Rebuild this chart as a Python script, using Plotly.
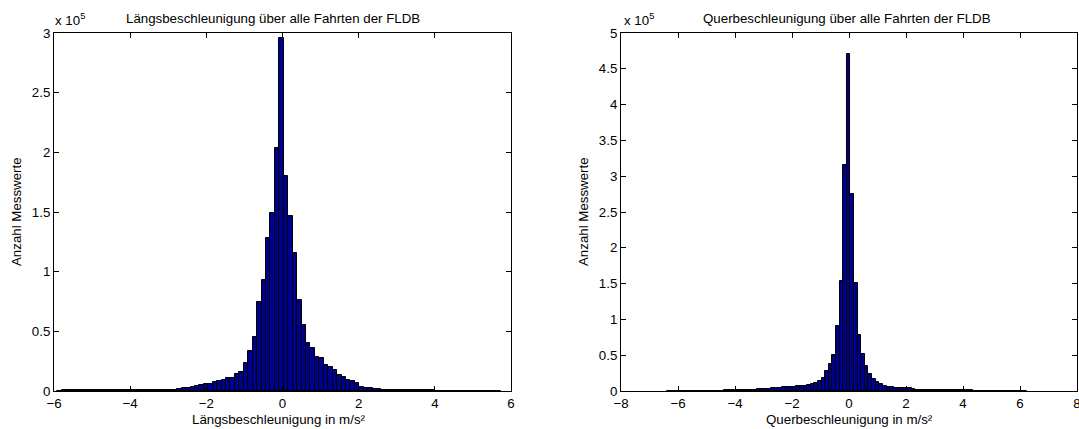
import numpy as np
import plotly.graph_objects as go

# ---------------- data ----------------
# Left histogram: longitudinal acceleration (100 bins)
long_bin_start = -5.913
long_bin_width = 0.1166
long_counts = [
    300,
    500, 500, 500, 500, 500, 500, 500, 500, 500, 500, 500, 550, 550, 550, 600, 600, 600, 650, 650, 700, 700, 750, 800, 900,
    1170, 1170, 1700, 2260, 2820, 3660, 4500, 5340, 5900, 6200,
    7300, 8400, 9250, 10900, 11200, 14600, 16200, 23200, 33800, 45300,
    74300, 92800, 128200, 148900, 204000, 296000, 179900, 146700, 115700, 76000,
    55600, 40300, 36300, 28500, 27700, 22100, 20100, 17900, 13200, 11800,
    9000, 8100, 6500, 3660, 2820, 2260, 1700, 1400, 900,
    700, 600, 600, 500, 500, 500, 500, 500, 450, 450, 450, 400, 400, 400, 400, 350,
    0, 350, 350, 0, 300, 0, 300, 350, 300, 0,
]

# Right histogram: lateral acceleration (100 bins)
lat_bin_start = -6.40
lat_bin_width = 0.1265
lat_counts = [
    500, 0, 0, 0, 300,
    500, 500, 500, 500, 600, 600, 600, 600, 700, 700, 700, 800, 800, 900,
    1000, 1000, 1200, 1500, 1900, 2000, 2200, 2400, 2600, 2800,
    3500, 3800, 4000, 5000, 5300, 5800, 6000, 6500, 7000, 7500,
    8200, 9800, 11200, 14000, 18700, 27500, 37300, 50800, 90300, 153600,
    315200, 471000, 275600, 150800, 77800, 52200, 34500, 23300, 17300, 12100,
    9300, 7000, 5600, 5400, 4600, 4400, 4200, 3700, 3500, 3300,
    2000, 1900, 1900, 1800, 1800, 1700, 1500,
    900, 900, 900, 800, 800, 800, 800, 800, 800, 700, 700, 700, 700, 700, 700, 700,
    600, 600, 600, 600, 600, 600, 600, 500,
]

long_xticks = [-6, -4, -2, 0, 2, 4, 6]
long_yticks = [0, 50000, 100000, 150000, 200000, 250000, 300000]
long_yticklabels = ["0", "0.5", "1", "1.5", "2", "2.5", "3"]

lat_xticks = [-8, -6, -4, -2, 0, 2, 4, 6, 8]
lat_yticks = [0, 50000, 100000, 150000, 200000, 250000, 300000, 350000, 400000, 450000, 500000]
lat_yticklabels = ["0", "0.5", "1", "1.5", "2", "2.5", "3", "3.5", "4", "4.5", "5"]

title_left = "Längsbeschleunigung über alle Fahrten der FLDB"
title_right = "Querbeschleunigung über alle Fahrten der FLDB"
xlabel_left = "Längsbeschleunigung in m/s²"
xlabel_right = "Querbeschleunigung in m/s²"
ylabel = "Anzahl Messwerte"
exp_label = "x 10<sup>5</sup>"

# ---------------- figure ----------------
W, H = 1079, 429
FONT = "Liberation Sans, Arial, Helvetica, sans-serif"
FS = 13.3
BAR = "#00008F"


def px(x):
    return x / W


def py(y):
    return (H - y) / H


long_centers = long_bin_start + long_bin_width * (np.arange(len(long_counts)) + 0.5)
lat_centers = lat_bin_start + lat_bin_width * (np.arange(len(lat_counts)) + 0.5)

fig = go.Figure()
fig.add_trace(go.Bar(x=long_centers, y=long_counts, width=long_bin_width,
                     marker=dict(color=BAR, line=dict(color="black", width=1)),
                     xaxis="x", yaxis="y", hoverinfo="x+y"))
fig.add_trace(go.Bar(x=lat_centers, y=lat_counts, width=lat_bin_width,
                     marker=dict(color=BAR, line=dict(color="black", width=1)),
                     xaxis="x2", yaxis="y2", hoverinfo="x+y"))

axis_style = dict(showline=True, linecolor="black", linewidth=1, mirror="allticks",
                  ticks="inside", ticklen=5, tickcolor="black", tickwidth=1,
                  showgrid=False, zeroline=False, automargin=False,
                  ticklabeloverflow="allow",
                  tickfont=dict(family=FONT, size=FS, color="black"))

y_dom = [py(391), py(33)]

fig.update_layout(
    template="none",
    width=W, height=H,
    margin=dict(l=0, r=0, t=0, b=0, pad=0),
    paper_bgcolor="white", plot_bgcolor="white",
    showlegend=False, bargap=0,
    font=dict(family=FONT, size=FS, color="black"),
    xaxis=dict(domain=[px(54), px(511)], range=[-6, 6], tickvals=long_xticks,
               anchor="y", **axis_style),
    yaxis=dict(domain=y_dom, range=[0, 300000], tickvals=long_yticks,
               ticktext=long_yticklabels, anchor="x", **axis_style),
    xaxis2=dict(domain=[px(621), px(1077)], range=[-8, 8], tickvals=lat_xticks,
                anchor="y2", **axis_style),
    yaxis2=dict(domain=y_dom, range=[0, 500000], tickvals=lat_yticks,
                ticktext=lat_yticklabels, anchor="x2", **axis_style),
)

ann = []


def text(x, y, t, angle=0, xanchor="center"):
    ann.append(dict(x=px(x), y=py(y), xref="paper", yref="paper", text=t,
                    showarrow=False, textangle=angle, xanchor=xanchor, yanchor="middle",
                    font=dict(family=FONT, size=FS, color="black")))


text(273, 18, title_left)
text(846.5, 18, title_right)
text(279, 419, xlabel_left)
text(849, 419, xlabel_right)
text(16, 212, ylabel, angle=-90)
text(583, 212, ylabel, angle=-90)
text(53, 20, exp_label, xanchor="left")
text(622, 20, exp_label, xanchor="left")

fig.update_layout(annotations=ann)

fig.write_html("out.html")
